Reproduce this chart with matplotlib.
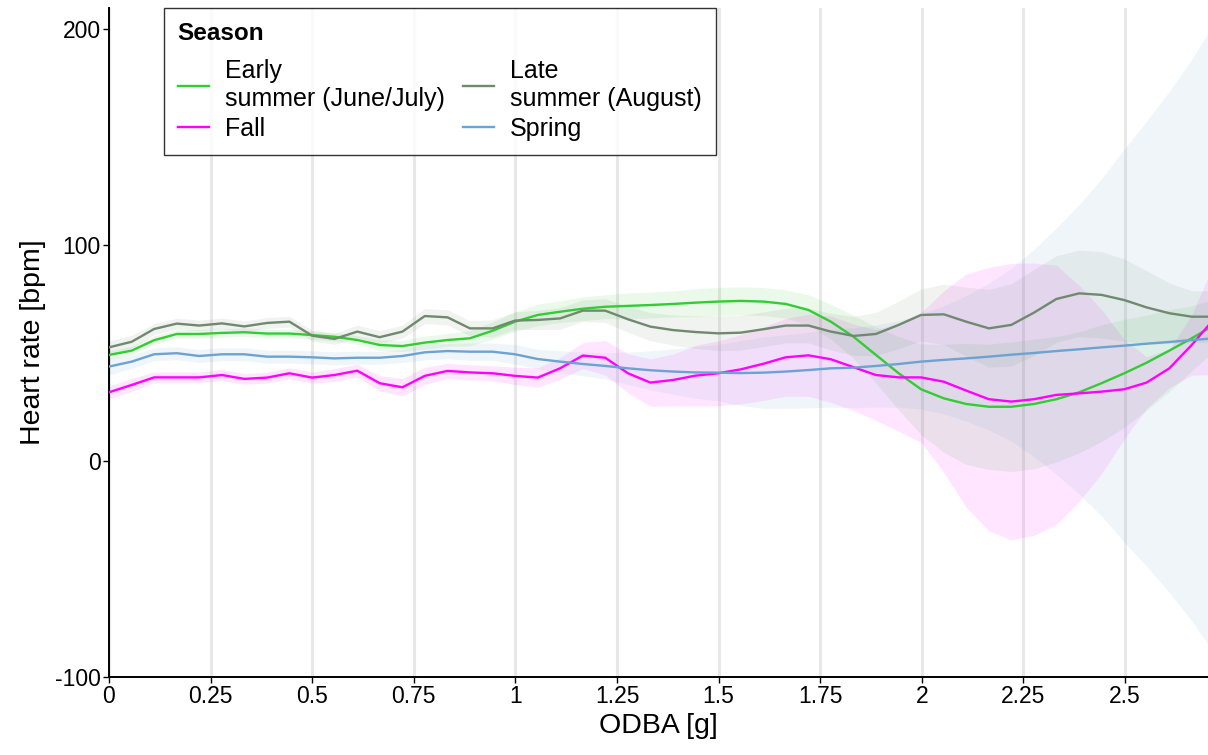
import matplotlib.pyplot as plt
import numpy as np

plt.rcParams['font.family'] = ['Liberation Sans', 'DejaVu Sans']
plt.rcParams['axes.unicode_minus'] = False

# ODBA grid shared by all smooths
odba = [0, 0.056, 0.111, 0.167, 0.222, 0.278, 0.333, 0.389, 0.444, 0.5,
        0.555, 0.611, 0.666, 0.722, 0.777, 0.833, 0.888, 0.944, 0.999, 1.055,
        1.11, 1.166, 1.221, 1.277, 1.332, 1.388, 1.443, 1.499, 1.554, 1.61,
        1.665, 1.721, 1.776, 1.832, 1.887, 1.943, 1.998, 2.054, 2.109, 2.165,
        2.22, 2.276, 2.331, 2.387, 2.442, 2.498, 2.553, 2.609, 2.664, 2.72]

early_hr = [49.1, 51.1, 55.9, 58.8, 58.8, 59.3, 59.6, 59.0, 59.0, 58.3,
            57.5, 56.0, 53.7, 53.2, 54.8, 56.0, 56.8, 60.3, 64.5, 67.6,
            69.1, 70.5, 71.4, 71.8, 72.2, 72.7, 73.3, 73.8, 74.1, 73.8,
            72.7, 69.9, 64.5, 57.5, 49.1, 40.6, 33.2, 29.0, 26.4, 25.1,
            25.1, 26.4, 28.6, 31.8, 36.0, 40.6, 45.5, 51.1, 56.8, 63.0]
early_se = [2, 2, 2, 2, 2, 2, 2, 2, 2, 2,
            2, 2, 2.5, 2.5, 3, 3, 3.5, 4, 4.5, 5,
            5, 5.5, 5.5, 6, 6, 6, 6.5, 6.5, 6.5, 6.5,
            6.5, 7, 8, 10, 13, 17, 21, 25, 28, 29,
            30, 30, 29, 28, 27, 25, 22, 19, 15, 12]

late_hr = [52.6, 55.2, 61.1, 63.6, 62.7, 63.7, 62.3, 63.9, 64.5, 58.0,
           56.5, 59.9, 57.3, 59.9, 67.1, 66.5, 61.4, 61.4, 65.0, 65.3,
           66.0, 69.6, 69.6, 65.6, 62.2, 60.6, 59.7, 59.1, 59.4, 61.0,
           62.7, 62.7, 59.9, 57.9, 58.8, 63.0, 67.6, 67.9, 64.5, 61.4,
           63.0, 68.7, 75.0, 77.6, 76.9, 74.5, 71.1, 68.4, 66.8, 66.8]
late_se = [3, 3, 2.5, 2.5, 2.5, 2.5, 2.5, 2.5, 2.5, 2.5,
           2.5, 3, 3, 3, 3.5, 3.5, 3.5, 4, 4, 4.5,
           5, 5, 5.5, 6, 6.5, 7, 7.5, 8, 8, 8,
           8, 8, 8.5, 9, 10, 11, 12, 14, 16, 18,
           19, 20, 20, 20, 20, 19, 17, 14, 12, 12]

fall_hr = [31.8, 35.2, 38.7, 38.7, 38.7, 39.8, 38.0, 38.6, 40.6, 38.6,
           39.8, 41.8, 36.0, 34.1, 39.4, 41.7, 41.0, 40.6, 39.4, 38.6,
           42.9, 48.8, 47.8, 40.6, 36.3, 37.5, 39.5, 40.6, 42.4, 45.0,
           48.0, 48.9, 47.1, 43.4, 39.8, 38.7, 38.7, 36.7, 32.6, 28.6,
           27.5, 28.6, 30.6, 31.3, 32.1, 33.2, 36.3, 42.9, 53.7, 66.0]
fall_se = [3, 3, 2.5, 2.5, 2.5, 2.5, 2.5, 2.5, 2.5, 2.5,
           3, 3, 3.5, 4, 4, 3.5, 3.5, 3.5, 4, 4.5,
           5, 6, 8, 9, 11, 12, 14, 15, 16, 17,
           18, 19, 20, 20, 21, 25, 30, 42, 54, 61,
           64, 63, 60, 50, 38, 23, 12, 9, 14, 26]

spring_hr = [43.7, 46.0, 49.4, 49.9, 48.6, 49.4, 49.4, 48.3, 48.3, 48.0,
             47.5, 47.8, 47.8, 48.6, 50.3, 50.9, 50.6, 50.6, 49.4, 47.2,
             46.0, 44.9, 44.0, 42.9, 42.0, 41.4, 41.0, 40.9, 40.7, 40.9,
             41.4, 42.1, 42.9, 43.2, 44.0, 44.9, 46.0, 46.8, 47.5, 48.3,
             49.2, 50.0, 50.9, 51.7, 52.6, 53.4, 54.3, 55.1, 56.0, 56.8]
spring_se = [4, 3, 3, 3, 3, 3, 3, 3, 3, 3,
             3, 3, 3, 3, 3.5, 3.5, 4, 4, 4.5, 4.5,
             5, 5.5, 6, 7.5, 9, 10.5, 12, 13, 15, 16.5,
             17, 17.5, 18, 18.5, 19, 20, 22, 25, 29, 34,
             40, 48, 57, 67, 78, 91, 103, 116, 130, 146]

season_names = ["Early\nsummer (June/July)", "Fall",
                "Late\nsummer (August)", "Spring"]
season_colors = ["#33cc33", "#ff00ff", "#6f8a6f", "#6ca3d0"]
season_hr = [early_hr, fall_hr, late_hr, spring_hr]
season_se = [early_se, fall_se, late_se, spring_se]

x_ticks = [0, 0.25, 0.5, 0.75, 1, 1.25, 1.5, 1.75, 2, 2.25, 2.5]
x_tick_labels = ["0", "0.25", "0.5", "0.75", "1", "1.25", "1.5", "1.75", "2", "2.25", "2.5"]
y_ticks = [-100, 0, 100, 200]

fig = plt.figure(figsize=(12.08, 7.55), dpi=100)
ax = fig.add_axes([0.0902, 0.1033, 0.9098, 0.8861])

x = np.array(odba)
for hr, se, col in zip(season_hr, season_se, season_colors):
    hr = np.array(hr)
    se = np.array(se)
    ax.fill_between(x, hr - se, hr + se, color=col, alpha=0.1, lw=0, zorder=1)

handles = []
for hr, col, name in zip(season_hr, season_colors, season_names):
    h, = ax.plot(x, hr, color=col, lw=1.7, label=name, zorder=3)
    handles.append(h)

ax.set_xlim(0, 2.704)
ax.set_ylim(-100, 209.7)
ax.set_xticks(x_ticks)
ax.set_xticklabels(x_tick_labels)
ax.set_yticks(y_ticks)
ax.tick_params(labelsize=16.5, length=4, width=1, colors='black', pad=2)
ax.xaxis.grid(True, color='#e8e8e8', lw=2.2, zorder=0)
ax.set_axisbelow(True)
for s in ['top', 'right']:
    ax.spines[s].set_visible(False)
for s in ['left', 'bottom']:
    ax.spines[s].set_linewidth(1.4)

ax.set_xlabel("ODBA [g]", fontsize=20.5, labelpad=3)
ax.set_ylabel("Heart rate [bpm]", fontsize=20.5, labelpad=6)

leg = ax.legend(handles=handles, ncol=2, loc='upper left', bbox_to_anchor=(0.05, 1.0),
                borderaxespad=0, fontsize=18, title="Season",
                title_fontproperties={'weight': 'bold', 'size': 17.5},
                alignment='left', frameon=True, fancybox=False,
                edgecolor='black', handlelength=1.25, handletextpad=0.65,
                columnspacing=0.7, labelspacing=0.23, borderpad=0.55)
leg.get_frame().set_linewidth(1.0)
# extra gap between legend title and entries
leg._legend_box.sep = 10.5

fig.savefig("out.png", dpi=100)
